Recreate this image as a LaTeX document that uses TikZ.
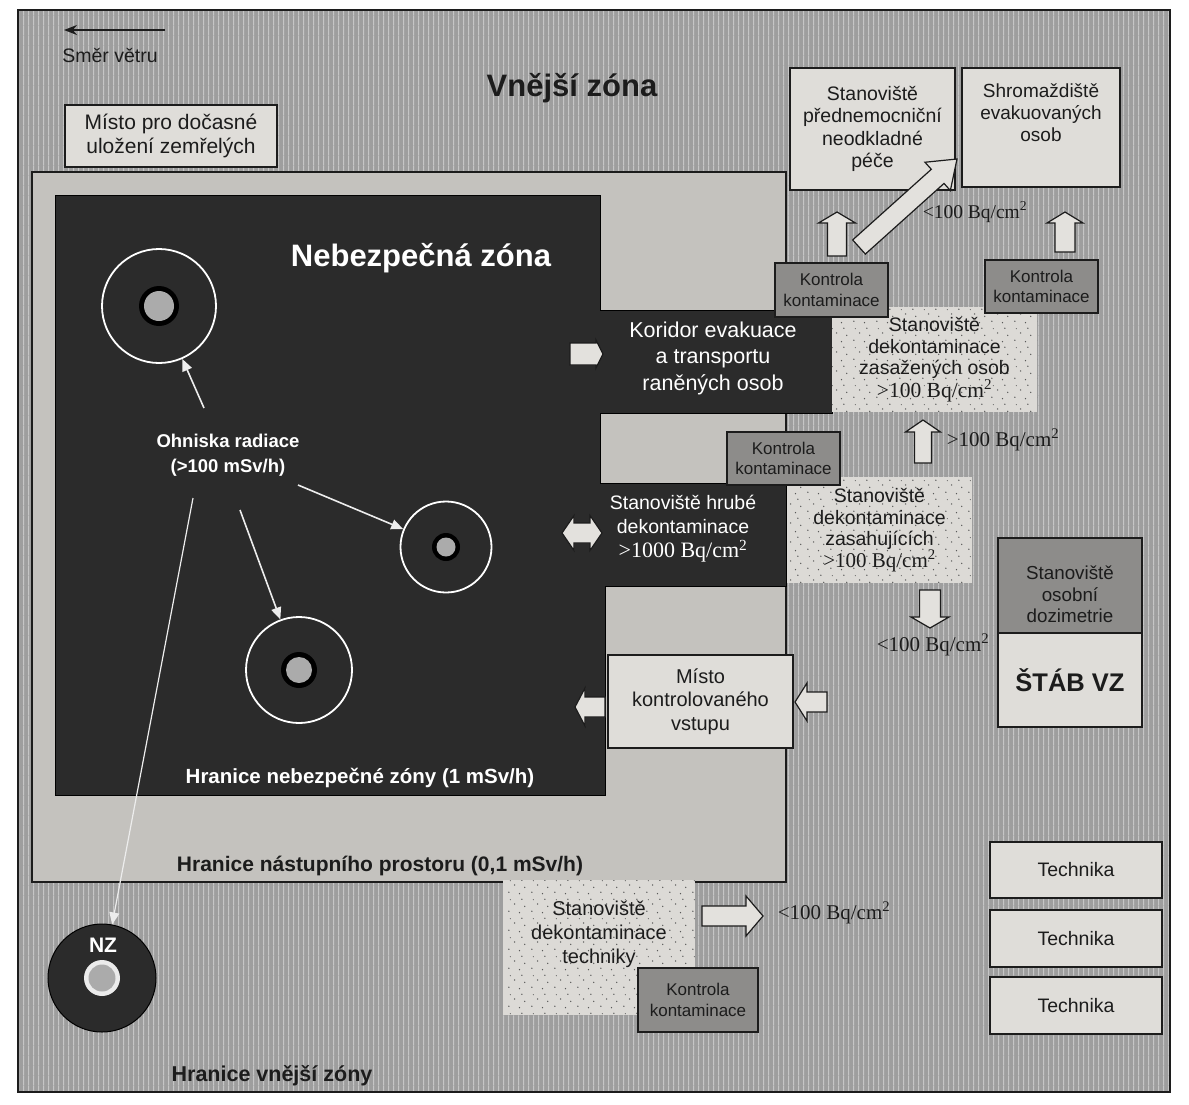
\documentclass[tikz,border=0pt]{standalone}
\usepackage{fontspec}
\setmainfont{Liberation Sans}
\newfontfamily\timesfont{Liberation Serif}
\usetikzlibrary{calc,arrows.meta,patterns}

\definecolor{outerzone}{HTML}{9E9E9E}
\definecolor{stripecol}{HTML}{C6C6C6}
\definecolor{midzone}{HTML}{C4C2BE}
\definecolor{hotzone}{HTML}{2B2B2B}
\definecolor{boxfill}{HTML}{DFDDD9}
\definecolor{ctrlfill}{HTML}{8D8C8A}
\definecolor{stipfill}{HTML}{DCDAD6}
\definecolor{ink}{HTML}{1C1C1C}
\definecolor{coregray}{HTML}{ABABAB}
\definecolor{arrowfill}{HTML}{E3E1DD}

% vertical stripes of the outer zone
\pgfdeclarepatternformonly{vstripes}{\pgfqpoint{0pt}{0pt}}{\pgfqpoint{4.6pt}{10pt}}{\pgfqpoint{4.6pt}{10pt}}{%
  \pgfpathrectangle{\pgfqpoint{0pt}{-0.5pt}}{\pgfqpoint{1.3pt}{11pt}}\pgfusepath{fill}}
% scattered dots of the decontamination sites
\pgfdeclarepatternformonly{stipdots}{\pgfqpoint{0pt}{0pt}}{\pgfqpoint{23pt}{19pt}}{\pgfqpoint{23pt}{19pt}}{%
  \pgfpathcircle{\pgfqpoint{3pt}{4pt}}{0.8pt}
  \pgfpathcircle{\pgfqpoint{14pt}{2.5pt}}{0.7pt}
  \pgfpathcircle{\pgfqpoint{9pt}{11.5pt}}{0.8pt}
  \pgfpathcircle{\pgfqpoint{19.5pt}{9pt}}{0.7pt}
  \pgfpathcircle{\pgfqpoint{4.5pt}{16pt}}{0.6pt}
  \pgfpathcircle{\pgfqpoint{16.5pt}{16.5pt}}{0.75pt}
  \pgfusepath{fill}}

\newcommand\fsz[2]{\fontsize{#1}{#2}\selectfont}
\newcommand\bqunit[1]{{\timesfont #1 Bq/cm\textsuperscript{2}}}

% hollow block arrow: from, to, shaft half width, head half width, head length
\newcommand\blockarrow[5]{%
  \coordinate (ba-s) at #1; \coordinate (ba-t) at #2;
  \coordinate (ba-h) at ($(ba-t)!#5!(ba-s)$);
  \draw[bigarrow] ($(ba-s)!#3!90:(ba-t)$) -- ($(ba-h)!#3!90:(ba-t)$) -- ($(ba-h)!#4!90:(ba-t)$)
    -- (ba-t) -- ($(ba-h)!#4!-90:(ba-t)$) -- ($(ba-h)!#3!-90:(ba-t)$) -- ($(ba-s)!#3!-90:(ba-t)$) -- cycle;}
% hollow block arrow with a head at both ends
\newcommand\blockarrowtwo[5]{%
  \coordinate (da-s) at #1; \coordinate (da-t) at #2;
  \coordinate (da-h) at ($(da-t)!#5!(da-s)$);
  \coordinate (da-g) at ($(da-s)!#5!(da-t)$);
  \draw[bigarrow] (da-s) -- ($(da-g)!#4!90:(da-t)$) -- ($(da-g)!#3!90:(da-t)$) -- ($(da-h)!#3!90:(da-t)$)
    -- ($(da-h)!#4!90:(da-t)$) -- (da-t) -- ($(da-h)!#4!-90:(da-t)$) -- ($(da-h)!#3!-90:(da-t)$)
    -- ($(da-g)!#3!-90:(da-t)$) -- ($(da-g)!#4!-90:(da-t)$) -- cycle;}

\begin{document}
\begin{tikzpicture}[x=1pt,y=-1pt,
  box/.style={draw=ink, line width=1.3pt, fill=boxfill, inner sep=0pt, align=center, text=ink, font=\fsz{19.5}{22.5}},
  txt/.style={inner sep=0pt, align=center, text=ink, font=\fsz{19.5}{22.5}},
  ctrl/.style={draw=ink, line width=1.2pt, fill=ctrlfill, inner sep=0pt, align=center, text=ink, font=\fsz{17}{20.5}},
  stipbox/.style={fill=stipfill, postaction={pattern=stipdots, pattern color=black!65}, inner sep=0pt, align=center, text=ink, font=\fsz{19.5}{21.5}},
  ring/.style={circle, draw=white, line width=1.8pt, inner sep=0pt},
  wtxt/.style={inner sep=0pt, align=center, text=white},
  btxt/.style={inner sep=0pt, align=center, text=ink},
  bigarrow/.style={fill=arrowfill, draw=ink, line width=1.2pt, line join=miter},
  thinarrow/.style={draw=white!93!black, line width=1.6pt, -{Triangle[length=12pt,width=10pt]}},
]
\useasboundingbox (0,0) rectangle (1189,1104);
\fill[white] (0,0) rectangle (1189,1104);

% outer zone
\fill[outerzone] (18,10) rectangle (1170,1092);
\fill[pattern=vstripes, pattern color=stripecol] (18,10) rectangle (1170,1092);
\draw[ink, line width=1.6pt] (18,10) rectangle (1170,1092);

% staging area
\draw[fill=midzone, draw=ink, line width=1.3pt] (32,172) rectangle (786,882);

% hot zone with the corridor and the rough decontamination site
\draw[fill=hotzone, draw=black, line width=1pt]
  (55,195) -- (600,195) -- (600,310) -- (832,310) -- (832,413) -- (600,413) -- (600,483)
  -- (786,483) -- (786,586) -- (605,586) -- (605,795) -- (55,795) -- cycle;

% radiation hot spots
\node[ring, minimum size=114pt] (c1) at (159,306) {};
\fill[black] (c1.center) circle[radius=20pt];
\fill[coregray] (c1.center) circle[radius=15pt];
\node[ring, minimum size=91pt] (c2) at (446,547) {};
\fill[black] (c2.center) circle[radius=14pt];
\fill[coregray] (c2.center) circle[radius=9.5pt];
\node[ring, minimum size=106pt] (c3) at (299,670) {};
\fill[black] (c3.center) circle[radius=18pt];
\fill[coregray] (c3.center) circle[radius=13pt];

% NZ marker
\node[circle, fill=hotzone, draw=black, line width=1pt, minimum size=108pt, inner sep=0pt] (nz) at (102,978) {};
\fill[white!92!black] (nz.center) circle[radius=18pt];
\fill[coregray] (nz.center) circle[radius=13.5pt];
\node[wtxt, font=\bfseries\fsz{21}{24}] (nzlabel) at (103,945) {NZ};

% labels of the zones
\node[btxt, font=\bfseries\fsz{31}{34}] (outer-t) at (572,88) {Vnější zóna};
\node[wtxt, font=\bfseries\fsz{31}{34}] (hot-t) at (421,258) {Nebezpečná zóna};
\node[wtxt, font=\bfseries\fsz{20.5}{23}] (hotb-t) at (360,778) {Hranice nebezpečné zóny (1 mSv/h)};
\node[btxt, font=\bfseries\fsz{21}{24}] (stage-t) at (380,866) {Hranice nástupního prostoru (0,1 mSv/h)};
\node[btxt, font=\bfseries\fsz{21.5}{24}] (outerb-t) at (272,1076) {Hranice vnější zóny};

% wind direction
\node[btxt, font=\fsz{19.5}{22}] (wind) at (110,55) {Směr větru};
\coordinate (windA) at (165,30);
\coordinate (windB) at (64,30);
\draw[ink, line width=1.6pt, -{Stealth[length=13pt,width=10pt]}] (windA) -- (windB);

% hot spot label and pointers
\node[wtxt, font=\bfseries\fsz{18.5}{25}] (ohn) at (228,455) {Ohniska radiace\\(>100 mSv/h)};
\coordinate (o1) at (204,408);
\coordinate (o2) at (298,485);
\coordinate (o3) at (240,510);
\coordinate (o4) at (193,498);
\draw[thinarrow] (o1) -- (c1);
\draw[thinarrow] (o2) -- (c2);
\draw[thinarrow] (o3) -- (c3);
\draw[thinarrow, line width=1.2pt] (o4) -- (nz);

% boxes in the outer zone
\node[box, font=\fsz{21}{23.5}, minimum width=212pt, minimum height=62pt] (mista) at (171,136) {Místo pro dočasné\\uložení zemřelých};
\node[box, minimum width=165pt, minimum height=122pt] (pece) at (872.5,129) {Stanoviště\\přednemocniční\\neodkladné\\péče};
\node[box, minimum width=158pt, minimum height=119pt] (shrom) at (1041,127.5) {};
\node[txt, font=\fsz{19}{22}] (shrom-t) at ($(shrom.center)+(0,-15)$) {Shromaždiště\\evakuovaných\\osob};

% decontamination sites
\node[stipbox, minimum width=205pt, minimum height=105pt] (dekzas) at (934.5,359.5) {Stanoviště\\dekontaminace\\zasažených osob\\{\fsz{21.5}{22}\bqunit{>100}}};
\node[stipbox, minimum width=185pt, minimum height=106pt] (dekzasah) at (879.5,530) {Stanoviště\\dekontaminace\\zasahujících\\{\fsz{21}{22}\bqunit{>100}}};
\node[stipbox, minimum width=192pt, minimum height=135pt] (dektech) at (599,947.5) {};
\node[txt, font=\fsz{20}{24}] (dektech-t) at ($(dektech.center)+(0,-13)$) {Stanoviště\\dekontaminace\\techniky};

% contamination checks
\node[ctrl, minimum width=113pt, minimum height=54pt] (kk1) at (831.5,290) {Kontrola\\kontaminace};
\node[ctrl, minimum width=113pt, minimum height=53pt] (kk2) at (1041.5,286.5) {Kontrola\\kontaminace};
\node[ctrl, minimum width=113pt, minimum height=53pt] (kk3) at (783.5,458.5) {Kontrola\\kontaminace};
\node[ctrl, minimum width=120pt, minimum height=64pt] (kk4) at (698,1000) {Kontrola\\kontaminace};

% corridor and rough decontamination labels
\node[wtxt, font=\fsz{21.5}{26.5}] (koridor) at (713,358) {Koridor evakuace\\a transportu\\raněných osob};
\node[wtxt, font=\fsz{19.5}{24}] (hrube) at (683,529) {Stanoviště hrubé\\dekontaminace\\{\fsz{22}{24}\bqunit{>1000}}};

% controlled entry
\node[box, font=\fsz{20}{23.3}, minimum width=185pt, minimum height=93pt] (mkv) at (700.5,701.5) {Místo\\kontrolovaného\\vstupu};

% staff
\node[box, fill=ctrlfill, minimum width=144pt, minimum height=95pt] (dozim) at (1070,585.5) {};
\node[txt, font=\fsz{18.8}{21.7}] (dozim-t) at ($(dozim.center)+(0,9)$) {Stanoviště\\osobní\\dozimetrie};
\node[box, font=\bfseries\fsz{25.5}{28}, minimum width=144pt, minimum height=94pt] (stab) at (1070,680) {ŠTÁB VZ};

% vehicles
\node[box, minimum width=172pt, minimum height=56pt] (tech1) at (1076,870) {Technika};
\node[box, minimum width=172pt, minimum height=57pt] (tech2) at (1076,938.5) {Technika};
\node[box, minimum width=172pt, minimum height=57pt] (tech3) at (1076,1005.5) {Technika};

% contamination limits
\node[btxt, font=\fsz{19.5}{22}] (bq1) at (975,212) {\bqunit{<100}};
\node[btxt, font=\fsz{21}{24}] (bq2) at (1003,440) {\bqunit{>100}};
\node[btxt, font=\fsz{21}{24}] (bq3) at (933,645) {\bqunit{<100}};
\node[btxt, font=\fsz{21}{24}] (bq4) at (834,913) {\bqunit{<100}};

% flow arrows
\coordinate (a1s) at (837,256);  \coordinate (a1t) at (837,212);
\coordinate (a2s) at (859,247);  \coordinate (a2t) at (957,159);
\coordinate (a3s) at (1065,252); \coordinate (a3t) at (1065,212);
\coordinate (a4s) at (570,354);  \coordinate (a4t) at (603,354);
\coordinate (a5s) at (562,533);  \coordinate (a5t) at (602,533);
\coordinate (a6s) at (923,463);  \coordinate (a6t) at (923,420);
\coordinate (a7s) at (930,590);  \coordinate (a7t) at (930,628);
\coordinate (a8s) at (605,707);  \coordinate (a8t) at (575,707);
\coordinate (a9s) at (827,702);  \coordinate (a9t) at (795,702);
\coordinate (a10s) at (702,916); \coordinate (a10t) at (763,916);
\blockarrow{(a1s)}{(a1t)}{9.5pt}{18.5pt}{11pt}
\blockarrow{(a2s)}{(a2t)}{9.5pt}{19pt}{26pt}
\blockarrow{(a3s)}{(a3t)}{10pt}{18pt}{11pt}
\blockarrow{(a4s)}{(a4t)}{11pt}{14pt}{7pt}
\blockarrowtwo{(a5s)}{(a5t)}{10pt}{17.5pt}{12pt}
\blockarrow{(a6s)}{(a6t)}{8.5pt}{17.5pt}{12pt}
\blockarrow{(a7s)}{(a7t)}{10.5pt}{19pt}{11pt}
\blockarrow{(a8s)}{(a8t)}{10pt}{19pt}{10pt}
\blockarrow{(a9s)}{(a9t)}{10pt}{19pt}{12pt}
\blockarrow{(a10s)}{(a10t)}{10pt}{20pt}{17pt}
\end{tikzpicture}
\end{document}
